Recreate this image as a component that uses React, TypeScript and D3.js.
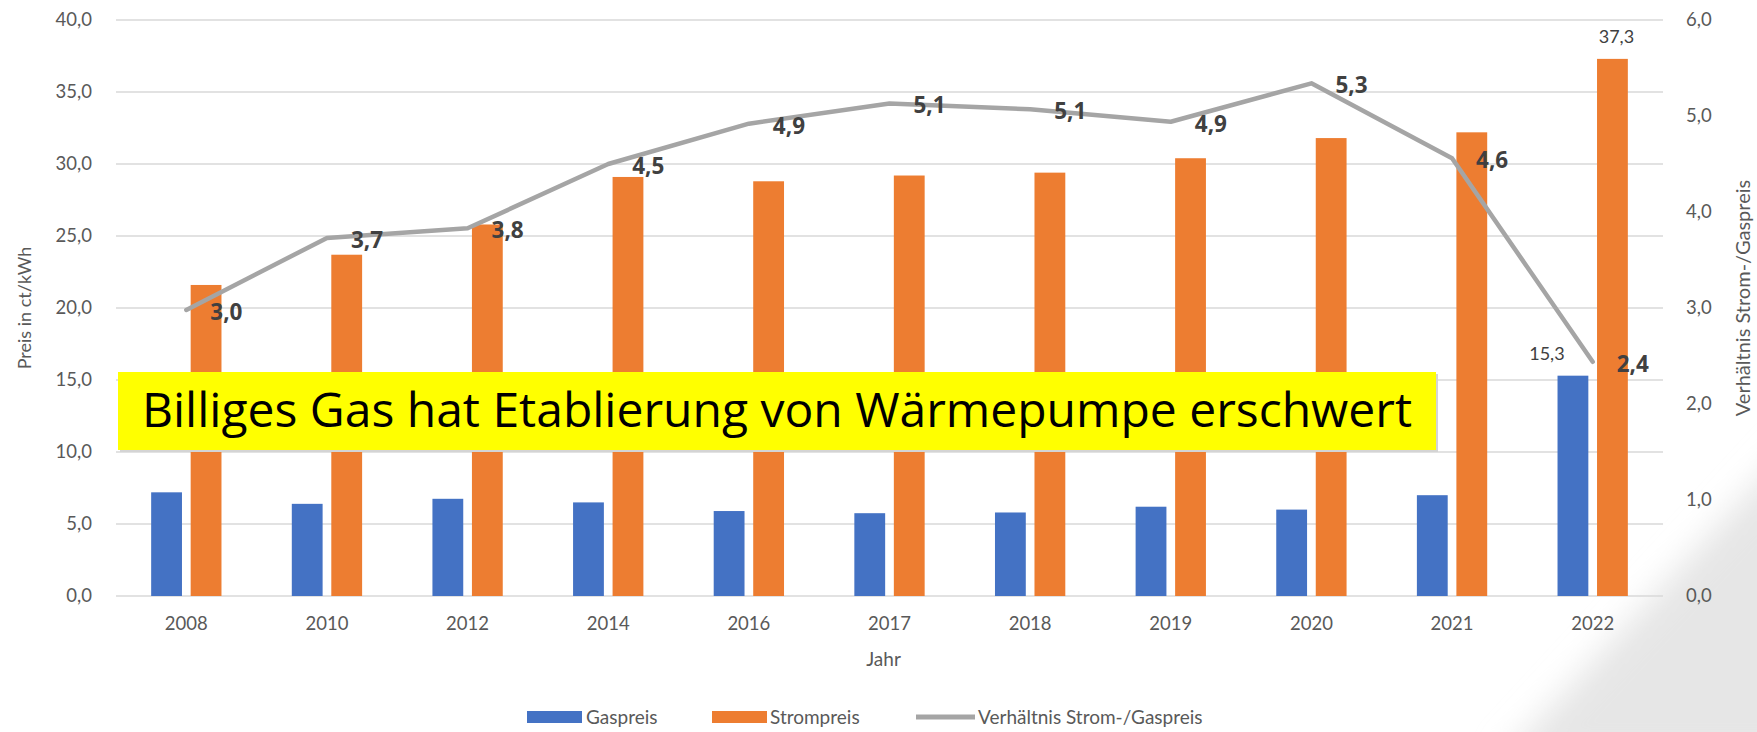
import * as d3 from 'd3';

// Jahr / Preise in ct/kWh / Verhältnis Strom-/Gaspreis
const years = ['2008', '2010', '2012', '2014', '2016', '2017', '2018', '2019', '2020', '2021', '2022'];
const gasPrice = [7.2, 6.4, 6.75, 6.5, 5.9, 5.75, 5.8, 6.2, 6.0, 7.0, 15.3];
const stromPrice = [21.6, 23.7, 25.8, 29.1, 28.8, 29.2, 29.4, 30.4, 31.8, 32.2, 37.3];
const ratio = [2.98, 3.73, 3.83, 4.5, 4.92, 5.13, 5.07, 4.94, 5.34, 4.56, 2.44];
const leftTicks = [0, 5, 10, 15, 20, 25, 30, 35, 40];
const rightTicks = [0, 1, 2, 3, 4, 5, 6];
const labelledYears = ['2022'];
const seriesKeys = ['gas', 'strom'];
const bannerText = 'Billiges Gas hat Etablierung von Wärmepumpe erschwert';

const W = 1757;
const H = 732;
const plot = { left: 116, right: 1663, top: 20, bottom: 596 };

const BLUE = '#4472C4';
const ORANGE = '#ED7D31';
const GREY = '#A5A5A5';
const AXIS_TEXT = '#595959';
const LABEL_TEXT = '#404040';
const FONT = 'Lato, "Liberation Sans", sans-serif';

const fmt = (v: number) => v.toFixed(1).replace('.', ',');

export default function App() {
  const x0 = d3.scaleBand<string>()
    .domain(years)
    .range([plot.left, plot.right])
    .paddingInner(0.5)
    .paddingOuter(0.25);

  const x1 = d3.scaleBand<string>()
    .domain(seriesKeys)
    .range([0, x0.bandwidth()])
    .paddingInner(0.22);

  const yLeft = d3.scaleLinear().domain([0, 40]).range([plot.bottom, plot.top]);
  const yRight = d3.scaleLinear().domain([0, 6]).range([plot.bottom, plot.top]);

  const center = (yr: string) => (x0(yr) ?? 0) + x0.bandwidth() / 2;

  const line = d3.line<number>()
    .x((_, i) => center(years[i]))
    .y(d => yRight(d));

  const rows = years.map((yr, i) => ({ yr, gas: gasPrice[i], strom: stromPrice[i] }));

  return (
    <div>
      <style>{`body{margin:0;background:#fff}`}</style>
      <svg width={W} height={H} style={{ display: 'block' }}>
        <defs>
          <filter id="soft" x="-20%" y="-20%" width="140%" height="140%">
            <feGaussianBlur stdDeviation="16" />
          </filter>
        </defs>
        <rect width={W} height={H} fill="#fff" />
        {/* slide background swoosh */}
        <path d={`M1500,${H + 30} L${W + 40},440 L${W + 40},${H + 30} Z`} fill="#e6e6e6" filter="url(#soft)" />

        {/* gridlines */}
        {leftTicks.map(t => (
          <line key={t} x1={plot.left} x2={plot.right} y1={yLeft(t)} y2={yLeft(t)}
            stroke="#d9d9d9" strokeWidth={1.5} />
        ))}

        {/* left ticks */}
        {leftTicks.map(t => (
          <text key={t} x={92} y={yLeft(t)} dy="0.35em" textAnchor="end"
            fontFamily={FONT} fontSize={18.5} fill={AXIS_TEXT}>{fmt(t)}</text>
        ))}
        {/* right ticks */}
        {rightTicks.map(t => (
          <text key={t} x={plot.right + 23} y={yRight(t)} dy="0.35em" textAnchor="start"
            fontFamily={FONT} fontSize={18.5} fill={AXIS_TEXT}>{fmt(t)}</text>
        ))}

        {/* bars */}
        {rows.map(r => (
          <g key={r.yr} transform={`translate(${x0(r.yr)},0)`}>
            <rect x={x1('gas')} width={x1.bandwidth()} y={yLeft(r.gas)}
              height={yLeft(0) - yLeft(r.gas)} fill={BLUE} />
            <rect x={x1('strom')} width={x1.bandwidth()} y={yLeft(r.strom)}
              height={yLeft(0) - yLeft(r.strom)} fill={ORANGE} />
            {labelledYears.includes(r.yr) && (
              <>
                <text x={(x1('gas') ?? 0) + x1.bandwidth() / 2 - 26} y={yLeft(r.gas) - 22}
                  dy="0.35em" textAnchor="middle" fontFamily={FONT} fontSize={18} fill={LABEL_TEXT}>
                  {fmt(r.gas)}
                </text>
                <text x={(x1('strom') ?? 0) + x1.bandwidth() / 2 + 4} y={yLeft(r.strom) - 22}
                  dy="0.35em" textAnchor="middle" fontFamily={FONT} fontSize={18} fill={LABEL_TEXT}>
                  {fmt(r.strom)}
                </text>
              </>
            )}
            <text x={x0.bandwidth() / 2} y={624} dy="0.35em" textAnchor="middle"
              fontFamily={FONT} fontSize={18.5} fill={AXIS_TEXT}>{r.yr}</text>
          </g>
        ))}

        {/* ratio line */}
        <path d={line(ratio) ?? ''} fill="none" stroke={GREY} strokeWidth={4.5}
          strokeLinejoin="round" strokeLinecap="round" />
        {ratio.map((v, i) => (
          <text key={years[i]} x={center(years[i]) + 24} y={yRight(v) + 2} dy="0.35em"
            fontFamily='"Open Sans", sans-serif' fontWeight={700} fontSize={22.5} fill={LABEL_TEXT}>
            {fmt(v)}
          </text>
        ))}

        {/* axis titles */}
        <text transform={`translate(25,${(plot.top + plot.bottom) / 2}) rotate(-90)`} dy="0.35em"
          textAnchor="middle" fontFamily={FONT} fontSize={18} fill={AXIS_TEXT}>Preis in ct/kWh</text>
        <text transform={`translate(1743,${(plot.top + plot.bottom) / 2 - 10}) rotate(-90)`} dy="0.35em"
          textAnchor="middle" fontFamily={FONT} fontSize={20} fill={AXIS_TEXT}>Verhältnis Strom-/Gaspreis</text>
        <text x={(plot.left + plot.right) / 2 - 6} y={659} dy="0.35em" textAnchor="middle"
          fontFamily={FONT} fontSize={19} fill={AXIS_TEXT}>Jahr</text>

        {/* legend */}
        <g fontFamily={FONT} fontSize={19} fill={AXIS_TEXT}>
          <rect x={527} y={711} width={55} height={12} fill={BLUE} />
          <text x={586} y={717} dy="0.35em">Gaspreis</text>
          <rect x={712} y={711} width={55} height={12} fill={ORANGE} />
          <text x={770} y={717} dy="0.35em">Strompreis</text>
          <line x1={916} x2={975} y1={717} y2={717} stroke={GREY} strokeWidth={5} />
          <text x={978} y={717} dy="0.35em">Verhältnis Strom-/Gaspreis</text>
        </g>

        {/* banner */}
        <rect x={plot.left + 4} y={374} width={1318} height={78} fill="#d4d4d4" />
        <rect x={plot.left + 2} y={372} width={1318} height={78} fill="#FFFF00" />
        <text x={plot.left + 2 + 1318 / 2} y={427} textAnchor="middle"
          fontFamily='"Open Sans", sans-serif' fontSize={48} fill="#000">{bannerText}</text>
      </svg>
    </div>
  );
}
